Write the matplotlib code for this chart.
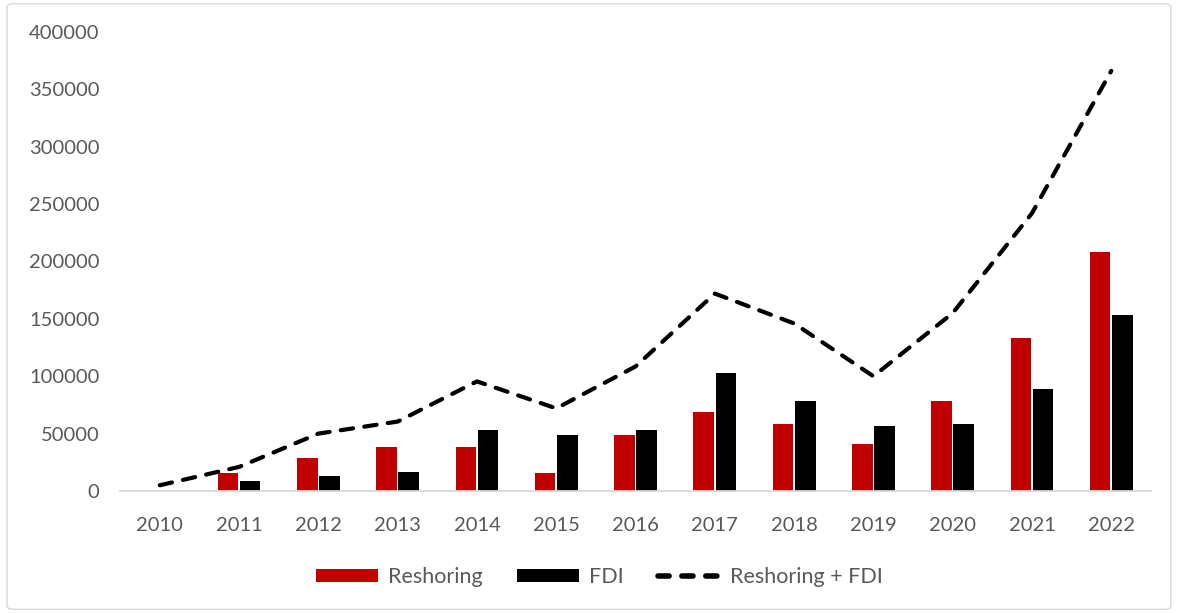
import matplotlib
matplotlib.use("Agg")
import matplotlib.pyplot as plt
import numpy as np
from matplotlib.patches import FancyBboxPatch, Patch
from matplotlib.lines import Line2D

years = ["2010", "2011", "2012", "2013", "2014", "2015", "2016",
         "2017", "2018", "2019", "2020", "2021", "2022"]
reshoring = [0, 16000, 28500, 38500, 38500, 16000, 48500,
             68500, 58500, 41000, 78500, 133000, 208500]
fdi = [0, 8500, 13500, 16500, 53500, 48500, 53500,
       103000, 78500, 56500, 58500, 88500, 153000]
combined = [5000, 21000, 50000, 60500, 95500, 72000, 108500,
            172000, 146000, 100000, 155000, 242000, 366000]
yticks = [0, 50000, 100000, 150000, 200000, 250000, 300000, 350000, 400000]

RED = "#C00000"
TXT = "#595959"
plt.rcParams["font.family"] = ["Lato", "DejaVu Sans"]

fig = plt.figure(figsize=(11.78, 6.13), dpi=100)
ax = fig.add_axes([0.102, 0.199, 0.875, 0.749])

x = np.arange(len(years))
w = 0.26
off = 0.14
ax.bar(x - off, reshoring, width=w, color=RED, zorder=2)
ax.bar(x + off, fdi, width=w, color="black", zorder=2)
ax.plot(x, combined, color="black", lw=3.0, dashes=(3.0, 2.7),
        dash_capstyle="round", solid_capstyle="round", zorder=3)

ax.set_xlim(-0.5, 12.5)
ax.set_ylim(0, 400000)
ax.set_yticks(yticks)
ax.set_yticklabels([str(v) for v in yticks])
ax.set_xticks(x)
ax.set_xticklabels(years)
ax.tick_params(axis="both", length=0, labelsize=14.5, colors=TXT)
ax.tick_params(axis="y", pad=15)
ax.tick_params(axis="x", pad=18.5)
for s in ("top", "right", "left"):
    ax.spines[s].set_visible(False)
ax.spines["bottom"].set_color("#d9d9d9")
ax.spines["bottom"].set_linewidth(1.3)

handles = [Patch(facecolor=RED), Patch(facecolor="black"),
           Line2D([0], [0], color="black", lw=4.0, dashes=(2.0, 2.3),
                  dash_capstyle="round")]
leg = fig.legend(handles, ["Reshoring", "FDI", "Reshoring + FDI"],
                 loc="center", bbox_to_anchor=(0.509, 0.059), ncol=3,
                 frameon=False, fontsize=15.5, labelcolor=TXT,
                 handlelength=2.9, handleheight=0.55, columnspacing=1.6,
                 handletextpad=0.45)

border = FancyBboxPatch((0.006, 0.006), 0.988, 0.988,
                        boxstyle="round,pad=0,rounding_size=0.006",
                        transform=fig.transFigure, fill=False,
                        edgecolor="#d9d9d9", lw=1.0)
fig.patches.append(border)

fig.savefig("out.png", dpi=100)
